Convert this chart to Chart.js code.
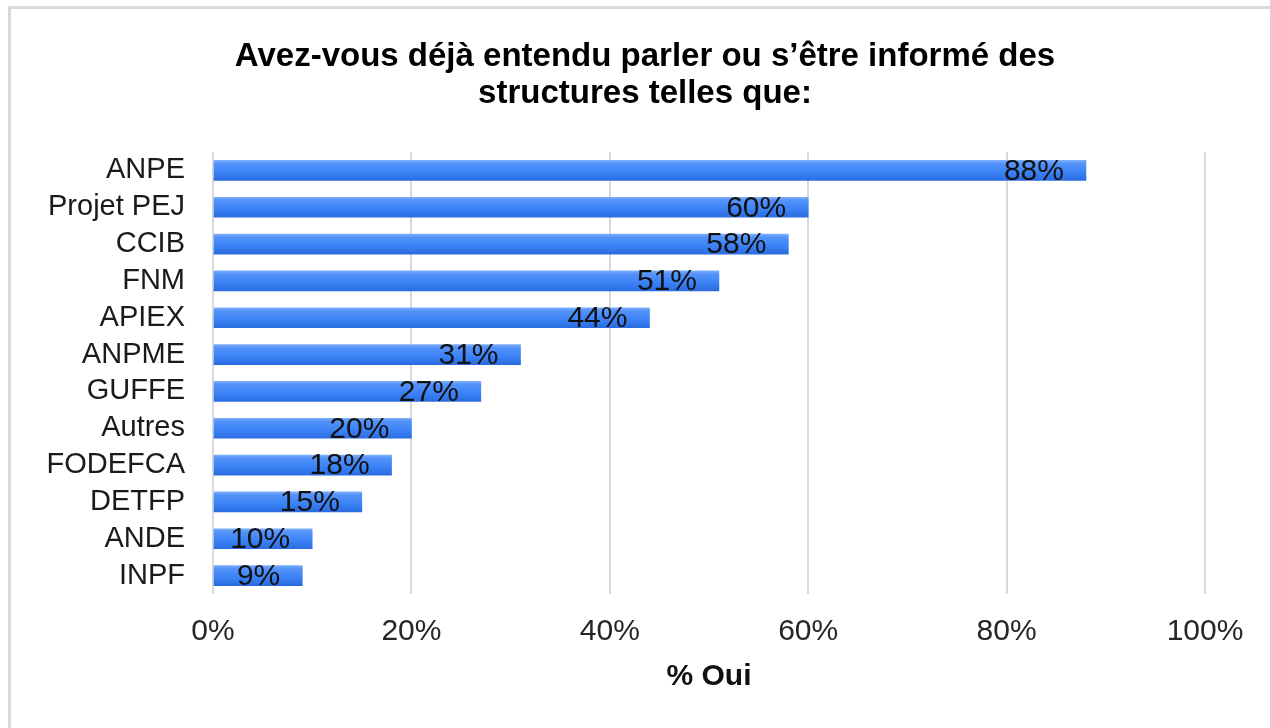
<!DOCTYPE html>
<html>
<head>
<meta charset="utf-8">
<script src="https://cdn.jsdelivr.net/npm/chart.js@4/dist/chart.umd.min.js"></script>
<style>
  html, body { margin: 0; padding: 0; background: #fff; overflow: hidden; }
  #frame { position: absolute; left: 8px; top: 6px; width: 1300px; height: 800px; border: 3px solid #d9d9d9; }
  #wrap { position: absolute; left: 0; top: 0; width: 1270px; height: 728px; }
</style>
</head>
<body>
<div id="frame"></div>
<div id="wrap"><canvas id="myChart"></canvas></div>
<script>
const structures = ['ANPE', 'Projet PEJ', 'CCIB', 'FNM', 'APIEX', 'ANPME', 'GUFFE', 'Autres', 'FODEFCA', 'DETFP', 'ANDE', 'INPF'];
const pourcentOui = [88, 60, 58, 51, 44, 31, 27, 20, 18, 15, 10, 9];
const titre = ['Avez-vous déjà entendu parler ou s’être informé des', 'structures telles que:'];

const police = '"Liberation Sans", Arial, sans-serif';

// etiquettes de valeur a la fin des barres
const etiquettes = {
    id: 'etiquettes',
    afterDatasetsDraw(chart) {
        const ctx = chart.ctx;
        const meta = chart.getDatasetMeta(0);
        ctx.save();
        ctx.font = '30px ' + police;
        ctx.fillStyle = '#111';
        ctx.textAlign = 'right';
        ctx.textBaseline = 'middle';
        meta.data.forEach((bar, i) => {
            ctx.fillText(pourcentOui[i] + '%', bar.x - 22, bar.y + 1);
        });
        ctx.restore();
    }
};

function degrade(context) {
    const chart = context.chart;
    const y = chart.scales.y;
    if (!y || context.dataIndex === undefined) {
        return '#3d84f5';
    }
    const yc = y.getPixelForValue(context.dataIndex);
    if (!isFinite(yc)) {
        return '#3d84f5';
    }
    const g = chart.ctx.createLinearGradient(0, yc - 10, 0, yc + 10);
    g.addColorStop(0, '#7aadfc');
    g.addColorStop(0.15, '#5593f9');
    g.addColorStop(0.6, '#3a82f6');
    g.addColorStop(1, '#2a6ce0');
    return g;
}

const ctx = document.getElementById('myChart');

const chart = new Chart(ctx, {
    type: 'bar',
    data: {
        labels: structures,
        datasets: [
            {
                label: '% Oui',
                data: pourcentOui,
                backgroundColor: degrade,
                borderWidth: 0,
                barThickness: 20,
                yAxisID: 'y'
            }
        ]
    },
    options: {
        indexAxis: 'y',
        responsive: true,
        maintainAspectRatio: false,
        animation: false,
        layout: {
            padding: { top: 0, right: 0, bottom: 30, left: 20 }
        },
        plugins: {
            legend: { display: false },
            tooltip: { enabled: false },
            title: {
                display: true,
                text: titre,
                color: '#000',
                font: { family: police, size: 33, weight: 'bold', lineHeight: 1.121 },
                padding: { top: 38, bottom: 40 }
            }
        },
        scales: {
            x: {
                min: 0,
                max: 100,
                ticks: {
                    stepSize: 20,
                    padding: 20,
                    color: '#262626',
                    font: { family: police, size: 30 },
                    callback: v => v + '%'
                },
                grid: { color: '#d9d9d9', lineWidth: 2, drawTicks: false },
                border: { display: false },
                title: {
                    display: true,
                    text: '% Oui',
                    color: '#111',
                    font: { family: police, size: 30, weight: 'bold', lineHeight: 1.2 },
                    padding: { top: -11, bottom: 3 }
                }
            },
            y: {
                grid: { display: false },
                border: { display: false },
                ticks: {
                    autoSkip: false,
                    padding: 20,
                    color: '#1a1a1a',
                    font: { family: police, size: 29 }
                },
                afterFit: s => { s.width = 193; }
            },
            // axe vide a droite, sert seulement de marge
            marge: {
                type: 'category',
                position: 'right',
                grid: { display: false },
                border: { display: false },
                ticks: { display: false },
                afterFit: s => { s.width = 65; }
            }
        }
    },
    plugins: [etiquettes]
});
</script>
</body>
</html>
